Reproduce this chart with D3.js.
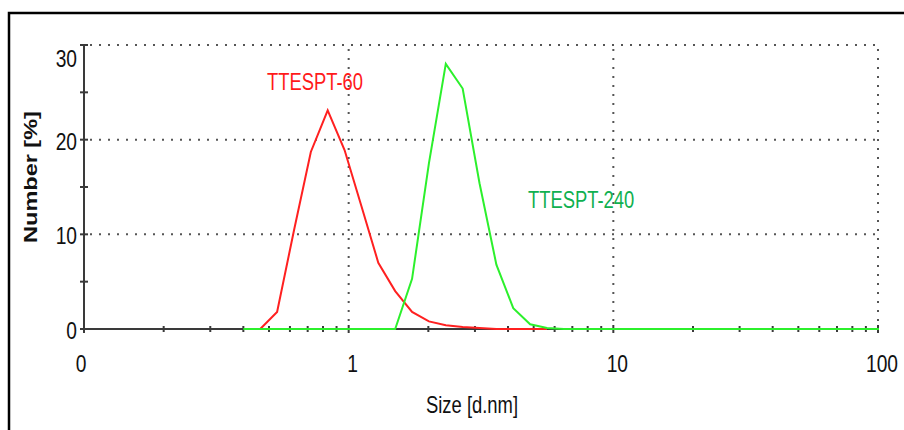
<!DOCTYPE html>
<html>
<head>
<meta charset="utf-8">
<script src="https://cdn.jsdelivr.net/npm/d3@7"></script>
<style>
  body { margin: 0; background: #fff; }
  text { font-family: 'Liberation Sans', Arial, sans-serif; }
</style>
</head>
<body>
<svg id="chart" width="904" height="430"></svg>
<script>
// size classes (d.nm), zetasizer style log bins
let sizes = [0.4, 0.4632, 0.5365, 0.6213, 0.7195, 0.8332, 0.9649, 1.117, 1.294, 1.499,
  1.736, 2.01, 2.328, 2.696, 3.122, 3.615, 4.187, 4.849, 5.615, 6.503,
  7.531, 8.721, 10.1, 11.7, 13.54, 15.69, 18.17, 21.04, 24.36, 28.21,
  32.67, 37.84, 43.82, 50.75, 58.77, 68.06, 78.82, 91.28, 105.7]

// number [%] per size class
let ttespt60 = [null, 0, 1.8, 10.4, 18.7, 23.1, 18.9, 13.0, 7.0, 4.0,
  1.8, 0.8, 0.4, 0.2, 0.1, 0, 0, 0, 0, null,
  null, null, null, null, null, null, null, null, null, null,
  null, null, null, null, null, null, null, null, null]

let ttespt240 = [0, 0, 0, 0, 0, 0, 0, 0, 0, 0,
  5.3, 17.5, 28.0, 25.4, 15.4, 6.8, 2.2, 0.5, 0.1, 0,
  0, 0, 0, 0, 0, 0, 0, 0, 0, 0,
  0, 0, 0, 0, 0, 0, 0, 0, 0]

let xMajor = [0.1, 1, 10, 100]
let xTickLabels = ['0', '1', '10', '100']
let yMajor = [0, 10, 20, 30]
let yMinor = [5, 15, 25]

let svg = d3.select('#chart')
let axisColour = '#3a3a3a'
let squeeze = 0.8

// outer frame (top + left edges only are visible)
svg.append('path')
    .attr('d', 'M9,432 L9,13 L906,13')
    .attr('fill', 'none')
    .attr('stroke', '#000')
    .attr('stroke-width', 2.5)

let x = d3.scaleLog()
    .domain([0.1, 100])
    .range([84, 878])

let y = d3.scaleLinear()
    .domain([0, 30])
    .range([329, 45])

let xMinor = []
xMajor.slice(0, -1).forEach(function(d) {
  for (let k = 2; k < 10; k++) xMinor.push(d * k)
})

svg.append('clipPath')
    .attr('id', 'plot-clip')
  .append('rect')
    .attr('x', x(0.1))
    .attr('y', 0)
    .attr('width', x(100) - x(0.1) + 1)
    .attr('height', 430)

// dotted grid
let grid = svg.append('g')
    .attr('stroke', '#555')
    .attr('stroke-width', 2)
    .attr('stroke-dasharray', '2,7')

grid.selectAll('.hgrid')
    .data(yMajor.slice(1))
  .enter().append('line')
    .attr('x1', x(0.1) + 6)
    .attr('x2', x(100))
    .attr('y1', function(d) { return y(d) })
    .attr('y2', function(d) { return y(d) })

grid.selectAll('.vgrid')
    .data(xMajor.slice(1))
  .enter().append('line')
    .attr('x1', function(d) { return x(d) })
    .attr('x2', function(d) { return x(d) })
    .attr('y1', y(30) + 4)
    .attr('y2', y(0))

// axes lines
svg.append('line')
    .attr('x1', x(0.1))
    .attr('x2', x(100))
    .attr('y1', y(0))
    .attr('y2', y(0))
    .attr('stroke', axisColour)
    .attr('stroke-width', 2)

svg.append('line')
    .attr('x1', x(0.1))
    .attr('x2', x(0.1))
    .attr('y1', y(30))
    .attr('y2', y(0))
    .attr('stroke', axisColour)
    .attr('stroke-width', 2)

// ticks crossing the axes
svg.selectAll('.xtick')
    .data(xMajor.concat(xMinor))
  .enter().append('line')
    .attr('x1', function(d) { return x(d) })
    .attr('x2', function(d) { return x(d) })
    .attr('y1', function(d) { return y(0) - (xMajor.indexOf(d) > -1 ? 4 : 3) })
    .attr('y2', function(d) { return y(0) + (xMajor.indexOf(d) > -1 ? 4 : 3) })
    .attr('stroke', axisColour)
    .attr('stroke-width', 2)

svg.selectAll('.ytick')
    .data(yMajor.concat(yMinor))
  .enter().append('line')
    .attr('x1', x(0.1) - 4)
    .attr('x2', x(0.1) + 4)
    .attr('y1', function(d) { return y(d) })
    .attr('y2', function(d) { return y(d) })
    .attr('stroke', axisColour)
    .attr('stroke-width', 2)

// tick labels
svg.selectAll('.ylabel')
    .data(yMajor)
  .enter().append('text')
    .attr('transform', function(d) {
      let ty = d === 30 ? y(d) + 22 : y(d) + 10
      return 'translate(77,' + ty + ') scale(' + squeeze + ',1)'
    })
    .attr('text-anchor', 'end')
    .attr('font-size', 24)
    .attr('fill', '#111')
    .text(function(d) { return d })

svg.selectAll('.xlabel')
    .data(xMajor)
  .enter().append('text')
    .attr('transform', function(d, i) {
      let tx = x(d) + (i === 0 ? -3 : 4)
      return 'translate(' + tx + ',372) scale(' + squeeze + ',1)'
    })
    .attr('text-anchor', 'middle')
    .attr('font-size', 24)
    .attr('fill', '#111')
    .text(function(d, i) { return xTickLabels[i] })

// axis titles
svg.append('text')
    .attr('transform', 'translate(472,413) scale(' + squeeze + ',1)')
    .attr('text-anchor', 'middle')
    .attr('font-size', 23)
    .attr('fill', '#111')
    .text('Size [d.nm]')

svg.append('text')
    .attr('transform', 'translate(37,177) scale(' + squeeze + ',1) rotate(-90)')
    .attr('text-anchor', 'middle')
    .attr('font-size', 23.5)
    .attr('font-weight', 'bold')
    .attr('fill', '#111')
    .text('Number [%]')

// distributions
let line = d3.line()
    .defined(function(d) { return d[1] !== null })
    .x(function(d) { return x(d[0]) })
    .y(function(d) { return y(d[1]) })

let curves = svg.append('g')
    .attr('clip-path', 'url(#plot-clip)')

curves.append('path')
    .datum(sizes.map(function(s, i) { return [s, ttespt60[i]] }))
    .attr('d', line)
    .attr('fill', 'none')
    .attr('stroke', '#ff2020')
    .attr('stroke-width', 2)

curves.append('path')
    .datum(sizes.map(function(s, i) { return [s, ttespt240[i]] }))
    .attr('d', line)
    .attr('fill', 'none')
    .attr('stroke', '#2cf02c')
    .attr('stroke-width', 2)

// series labels
svg.append('text')
    .attr('transform', 'translate(267,90) scale(' + squeeze + ',1)')
    .attr('font-size', 23)
    .attr('fill', '#ff1a1a')
    .text('TTESPT-60')

svg.append('text')
    .attr('transform', 'translate(528,208) scale(' + squeeze + ',1)')
    .attr('font-size', 23)
    .attr('fill', '#10b050')
    .text('TTESPT-240')
</script>
</body>
</html>
